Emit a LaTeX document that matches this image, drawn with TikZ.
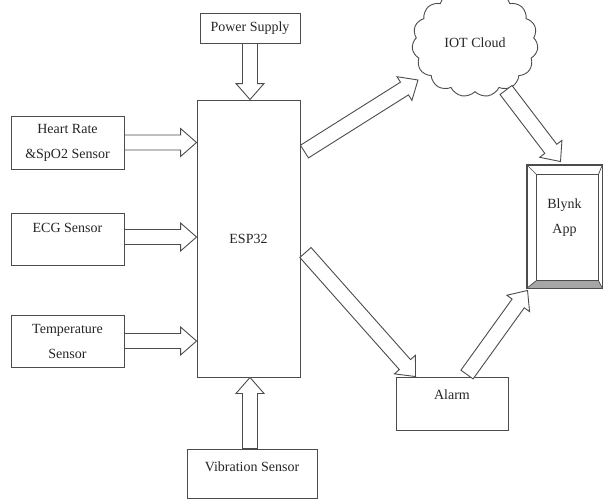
\documentclass[tikz,border=0pt]{standalone}
\usepackage{fontspec}
\setmainfont{Liberation Serif}
\usetikzlibrary{calc,shapes.symbols}
\newcommand\blockarrow[2]{%
  \path ($(#2)!16pt!(#1)$) coordinate (bahd);
  \draw[blk] ($(#1)!7.5pt!90:(#2)$) -- ($(bahd)!7.5pt!90:(#2)$) -- ($(bahd)!14pt!90:(#2)$) -- (#2) -- ($(bahd)!14pt!-90:(#2)$) -- ($(bahd)!7.5pt!-90:(#2)$) -- ($(#1)!7.5pt!-90:(#2)$) -- cycle;}
\begin{document}
\begin{tikzpicture}[x=1pt,y=-1pt,
  lbl/.style={text=black!85, font=\fontsize{14}{25}\selectfont},
  box/.style={lbl, draw=black!70, line width=0.9pt, fill=white, inner sep=0pt},
  blk/.style={draw=black!70, line width=0.9pt, fill=white, line join=miter}]
\useasboundingbox (0,0) rectangle (603,501);

\node[box, minimum width=100, minimum height=30] (power) at (250,28) {Power Supply};
\node[box, minimum width=103, minimum height=277] (esp) at (248.5,238.5) {ESP32};
\node[box, minimum width=113, minimum height=53, align=center] (hr) at (67.5,142.5) {Heart Rate\\\&SpO2 Sensor};
\node[box, minimum width=113, minimum height=52, text height=10pt, text depth=23pt] (ecg) at (67.5,239) {ECG Sensor};
\node[box, minimum width=113, minimum height=52, align=center] (temp) at (67.5,341) {Temperature\\Sensor};
\node[box, minimum width=130, minimum height=49, text height=10pt, text depth=14pt] (vib) at (252,473.5) {Vibration Sensor};
\node[box, minimum width=112, minimum height=53, text height=10pt, text depth=18pt] (alarm) at (452,403.5) {Alarm};
\node[lbl, cloud, cloud puffs=15, cloud puff arc=110, aspect=1.2, draw=black!70, line width=0.9pt, minimum width=126, minimum height=108, inner sep=0pt] (cloud) at (475,43) {IOT Cloud};

% Blynk bevel frame
\node[draw=black!70, line width=0.9pt, minimum width=75, minimum height=123, inner sep=0pt] (blynk) at (564.5,226.5) {};
\fill[black!35] (blynk.south west) -- (blynk.south east) -- ($(blynk.south east)+(-4,-8)$) -- ($(blynk.south west)+(10,-8)$) -- cycle;
\draw[draw=black!70, line width=0.9pt] (blynk.north west) rectangle (blynk.south east);
\draw[draw=black!70, line width=0.9pt] ($(blynk.north west)+(10,10)$) rectangle ($(blynk.south east)+(-4,-8)$);
\draw[draw=black!70, line width=0.7pt] (blynk.north west) -- ++(10,10) (blynk.north east) -- ++(-4,10)
  (blynk.south west) -- ++(10,-8) (blynk.south east) -- ++(-4,-8);
\node[lbl, align=center] (blynktext) at (564.5,217.5) {Blynk\\App};

% arrow end points
\coordinate (ps) at (power.south);
\coordinate (pe) at (power.south |- esp.north);
\coordinate (hs) at (hr.east);
\coordinate (he) at (hr.east -| esp.west);
\coordinate (es) at ($(ecg.east)+(0,-2)$);
\coordinate (ee) at (es -| esp.west);
\coordinate (ts) at (temp.east);
\coordinate (te) at (temp.east -| esp.west);
\coordinate (vs) at ($(vib.north)+(-2,0)$);
\coordinate (ve) at (vs |- esp.south);
\coordinate (cs) at ($(esp.north east)+(4,52)$);
\coordinate (ce) at ($(cloud.center)+(-57,37)$);
\coordinate (bs) at ($(cloud.center)+(31,47)$);
\coordinate (be) at ($(blynk.north)+(-4,-3)$);
\coordinate (as) at ($(esp.east)+(5,14)$);
\coordinate (ae) at ($(alarm.north west)+(20,0)$);
\coordinate (ls) at ($(alarm.north)+(15,-2)$);
\coordinate (le) at ($(blynk.south west)+(1,2)$);

\blockarrow{ps}{pe}
\blockarrow{hs}{he}
\blockarrow{es}{ee}
\blockarrow{ts}{te}
\blockarrow{vs}{ve}
\blockarrow{cs}{ce}
\blockarrow{bs}{be}
\blockarrow{as}{ae}
\blockarrow{ls}{le}
\end{tikzpicture}
\end{document}
